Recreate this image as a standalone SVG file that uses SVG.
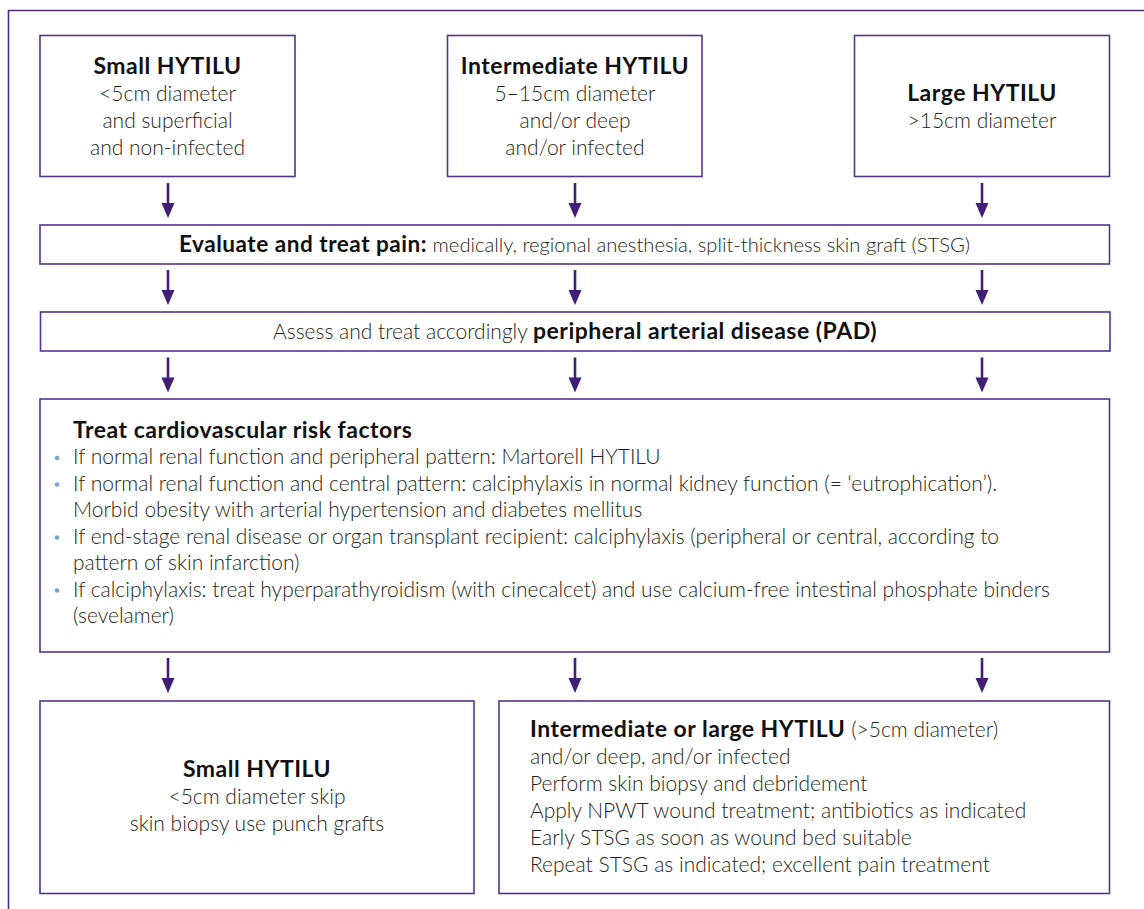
<svg xmlns="http://www.w3.org/2000/svg" width="1144" height="909" viewBox="0 0 1144 909">
<style>
.frame{fill:none;stroke:#4e2c85;stroke-width:1.6}
.box{fill:#fff;stroke:#55348a;stroke-width:1.6}
.t{font-family:Lato,"Liberation Sans",sans-serif;font-size:21px;font-weight:300;fill:#231f20}
.b{font-weight:700;font-size:23px;letter-spacing:0.5px;fill:#111}
.c{text-anchor:middle}
.bul{fill:#7aa3d6}
.arr{stroke:#421f76;stroke-width:2.6;fill:none}
.head{fill:#421f76}
</style>
<defs>
<g id="arrowShape"><line class="arr" x1="0" y1="0" x2="0" y2="22"/><polygon class="head" points="-6.5,20 6.5,20 0,35"/></g>
</defs>
<path class="frame" d="M8.5 909V10.5H1144"/>

<g id="n1">
<rect class="box" x="40" y="35.5" width="255" height="141"/>
<text class="t c" x="167.5" y="74"><tspan class="b">Small HYTILU</tspan></text>
<text class="t c" x="167.5" y="101">&lt;5cm diameter</text>
<text class="t c" x="167.5" y="128">and superficial</text>
<text class="t c" x="167.5" y="155">and non-infected</text>
</g>
<g id="n2">
<rect class="box" x="447.5" y="35.5" width="254.5" height="141"/>
<text class="t c" x="575" y="74"><tspan class="b">Intermediate HYTILU</tspan></text>
<text class="t c" x="575" y="101">5–15cm diameter</text>
<text class="t c" x="575" y="128">and/or deep</text>
<text class="t c" x="575" y="155">and/or infected</text>
</g>
<g id="n3">
<rect class="box" x="854.5" y="35.5" width="255" height="141"/>
<text class="t c" x="982" y="101"><tspan class="b">Large HYTILU</tspan></text>
<text class="t c" x="982" y="128">&gt;15cm diameter</text>
</g>
<g id="n4">
<rect class="box" x="40" y="225" width="1069.5" height="39"/>
<text class="t c" x="574.5" y="252" style="font-size:20.2px"><tspan class="b" style="font-size:22.6px">Evaluate and treat pain:</tspan> medically, regional anesthesia, split-thickness skin graft (STSG)</text>
</g>
<g id="n5">
<rect class="box" x="40.5" y="312" width="1069.5" height="39"/>
<text class="t c" x="575" y="339">Assess and treat accordingly <tspan class="b">peripheral arterial disease (PAD)</tspan></text>
</g>
<g id="n6">
<rect class="box" x="40" y="399" width="1069.5" height="253"/>
<text class="t" x="73" y="438"><tspan class="b">Treat cardiovascular risk factors</tspan></text>
<circle class="bul" cx="57" cy="458" r="2.3"/>
<text class="t" x="73" y="464">If normal renal function and peripheral pattern: Martorell HYTILU</text>
<circle class="bul" cx="57" cy="484.5" r="2.3"/>
<text class="t" x="73" y="490.5">If normal renal function and central pattern: calciphylaxis in normal kidney function (= ‘eutrophication’).</text>
<text class="t" x="73" y="517">Morbid obesity with arterial hypertension and diabetes mellitus</text>
<circle class="bul" cx="57" cy="537.5" r="2.3"/>
<text class="t" x="73" y="543.5">If end-stage renal disease or organ transplant recipient: calciphylaxis (peripheral or central, according to</text>
<text class="t" x="73" y="570">pattern of skin infarction)</text>
<circle class="bul" cx="57" cy="590.5" r="2.3"/>
<text class="t" x="73" y="596.5">If calciphylaxis: treat hyperparathyroidism (with cinecalcet) and use calcium-free intestinal phosphate binders</text>
<text class="t" x="73" y="623">(sevelamer)</text>
</g>
<g id="n7">
<rect class="box" x="40" y="701" width="434" height="192.5"/>
<text class="t c" x="257" y="777"><tspan class="b">Small HYTILU</tspan></text>
<text class="t c" x="257" y="804">&lt;5cm diameter skip</text>
<text class="t c" x="257" y="831">skin biopsy use punch grafts</text>
</g>
<g id="n8">
<rect class="box" x="499" y="701" width="610.5" height="192.5"/>
<text class="t" x="530" y="737"><tspan class="b">Intermediate or large HYTILU</tspan> (&gt;5cm diameter)</text>
<text class="t" x="530" y="764">and/or deep, and/or infected</text>
<text class="t" x="530" y="791">Perform skin biopsy and debridement</text>
<text class="t" x="530" y="818">Apply NPWT wound treatment; antibiotics as indicated</text>
<text class="t" x="530" y="845">Early STSG as soon as wound bed suitable</text>
<text class="t" x="530" y="872">Repeat STSG as indicated; excellent pain treatment</text>
</g>

<g id="connectors">
<use href="#arrowShape" x="168" y="183"/>
<use href="#arrowShape" x="575" y="183"/>
<use href="#arrowShape" x="982" y="183"/>
<use href="#arrowShape" x="168" y="270"/>
<use href="#arrowShape" x="575" y="270"/>
<use href="#arrowShape" x="982" y="270"/>
<use href="#arrowShape" x="168" y="357.5"/>
<use href="#arrowShape" x="575" y="357.5"/>
<use href="#arrowShape" x="982" y="357.5"/>
<use href="#arrowShape" x="168" y="658"/>
<use href="#arrowShape" x="575" y="658"/>
<use href="#arrowShape" x="982" y="658"/>
</g>
</svg>
